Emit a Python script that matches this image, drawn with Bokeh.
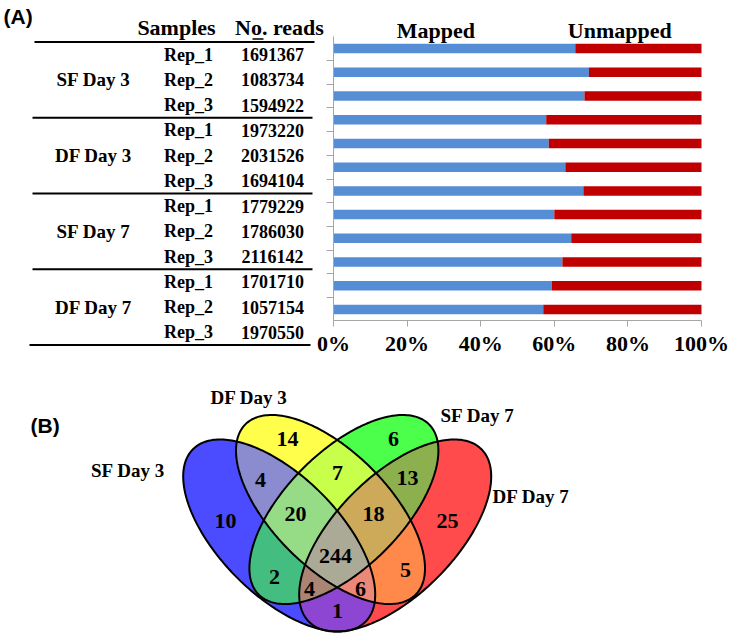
import numpy as np
from bokeh.plotting import figure
from bokeh.layouts import column
from bokeh.models import Range1d, FixedTicker, ColumnDataSource, LinearAxis
from bokeh.core.properties import value
from bokeh.embed import file_html
from bokeh.resources import INLINE

# ---------------- data: panel (A) ----------------
groups = ["SF Day 3", "DF Day 3", "SF Day 7", "DF Day 7"]
reps = ["Rep_1", "Rep_2", "Rep_3"]
reads = [1691367, 1083734, 1594922, 1973220, 2031526, 1694104,
         1779229, 1786030, 2116142, 1701710, 1057154, 1970550]
mapped = [65.7, 69.4, 68.2, 57.8, 58.5, 63.0, 67.9, 60.0, 64.6, 62.2, 59.3, 57.0]
unmapped = [34.3, 30.6, 31.8, 42.2, 41.5, 37.0, 32.1, 40.0, 35.4, 37.8, 40.7, 43.0]
bar_headers = ["Mapped", "Unmapped"]
pct_ticks = [0, 20, 40, 60, 80, 100]
pct_labels = ["0%", "20%", "40%", "60%", "80%", "100%"]

# ---------------- data: panel (B) ----------------
venn_sets = ["SF Day 3", "DF Day 3", "SF Day 7", "DF Day 7"]
venn_regions = ["A", "B", "C", "D", "AB", "AC", "AD", "BC", "BD", "CD",
                "ABC", "ABD", "ACD", "BCD", "ABCD"]
venn_counts = [10, 14, 6, 25, 4, 2, 1, 7, 5, 13, 20, 6, 4, 18, 244]

SERIF = value("Liberation Serif")
SANS = value("Liberation Sans")

W = 736
TOP_H = 362
VH = 276

# ---------------- top figure: table + bar chart ----------------
n = len(reads)
top = figure(width=W, height=TOP_H, x_range=Range1d(0, W), y_range=Range1d(TOP_H, 0),
             output_backend="svg", toolbar_location=None, x_axis_type=None, y_axis_type=None,
             min_border=0, outline_line_color=None, frame_align=False)
top.xgrid.visible = False
top.ygrid.visible = False

# bar chart scales (percent on x, bar index on y)
BAR_X0, BAR_X1 = 333.0, 701.0        # pixel positions of 0% and 100%
BAR_Y0, BAR_DY = 48.0, 23.73         # pixel centre of first bar, bar pitch
AXIS_Y = 320.0                       # pixel row of the percent axis
ppu = (BAR_X1 - BAR_X0) / 100.0
top.extra_x_ranges = {"pct": Range1d(-BAR_X0 / ppu, (W - BAR_X0) / ppu)}
top.extra_y_ranges = {"bars": Range1d((TOP_H - BAR_Y0) / BAR_DY, -BAR_Y0 / BAR_DY)}

src = ColumnDataSource(dict(idx=list(range(n)), mapped=mapped, unmapped=unmapped))
top.hbar_stack(["mapped", "unmapped"], y="idx", height=0.4, color=["#558ED5", "#C00000"],
               line_color=None, source=src, x_range_name="pct", y_range_name="bars")
top.text(x=[27.8, 77.8], y=[-0.76, -0.76], text=bar_headers, text_font=SERIF,
         text_font_style="bold", text_font_size="22px", text_align="center",
         text_baseline="middle", text_color="black", x_range_name="pct", y_range_name="bars")

xa = LinearAxis(x_range_name="pct", fixed_location=AXIS_Y)
xa.ticker = FixedTicker(ticks=pct_ticks)
xa.major_label_overrides = {t: l for t, l in zip(pct_ticks, pct_labels)}
xa.bounds = (0, 100)
xa.axis_line_color = "#A6A6A6"
xa.major_tick_line_color = "#A6A6A6"
xa.major_tick_out = 6
xa.major_tick_in = 0
xa.minor_tick_line_color = None
xa.major_label_standoff = 4
xa.major_label_text_font = "Liberation Serif"
xa.major_label_text_font_style = "bold"
xa.major_label_text_font_size = "22px"
xa.major_label_text_color = "black"
top.add_layout(xa, "below")

yt = [i + 0.5 for i in range(n - 1)]
ya = LinearAxis(y_range_name="bars", x_range_name="pct", fixed_location=0)
ya.ticker = FixedTicker(ticks=yt)
ya.major_label_overrides = {t: "" for t in yt}
ya.major_label_text_font_size = "0px"
ya.major_label_standoff = 0
ya.bounds = (-0.5, (AXIS_Y - BAR_Y0) / BAR_DY)
ya.axis_line_color = "#A6A6A6"
ya.major_tick_line_color = "#A6A6A6"
ya.major_tick_out = 7
ya.major_tick_in = 0
ya.minor_tick_line_color = None
top.add_layout(ya, "left")

# table (screen coordinates)
row_y0, row_dy = 54.0, 25.25
ry = row_y0 + row_dy * np.arange(n)
rep_txt = [reps[i % 3] for i in range(n)]
top.text(x=[188] * n, y=ry, text=rep_txt, text_font=SERIF, text_font_style="bold",
         text_font_size="18px", text_align="center", text_baseline="middle", text_color="black")
top.text(x=[272] * n, y=ry, text=[str(r) for r in reads], text_font=SERIF, text_font_style="bold",
         text_font_size="18px", text_align="center", text_baseline="middle", text_color="black")
gy = [row_y0 + row_dy * (3 * g + 1) for g in range(len(groups))]
top.text(x=[93] * len(groups), y=gy, text=groups, text_font=SERIF, text_font_style="bold",
         text_font_size="19px", text_align="center", text_baseline="middle", text_color="black")
top.text(x=[176, 279], y=[27, 27], text=["Samples", "No. reads"], text_font=SERIF,
         text_font_style="bold", text_font_size="22px", text_align="center",
         text_baseline="middle", text_color="black")
top.segment(x0=[252], y0=[38.5], x1=[263], y1=[38.5], line_color="black", line_width=1.5)
by = [row_y0 + row_dy * b for b in (-0.5, 2.5, 5.5, 8.5, 11.5)]
top.segment(x0=[34, 32, 32, 32, 29], y0=by, x1=[314, 312, 312, 312, 310], y1=by,
            line_color="black", line_width=2)
top.text(x=[3], y=[16], text=["(A)"], text_font=SANS, text_font_style="bold",
         text_font_size="21px", text_align="left", text_baseline="middle", text_color="black")

# ---------------- venn figure (screen coordinates) ----------------
venn = figure(width=W, height=VH, x_range=Range1d(0, W), y_range=Range1d(TOP_H + VH, TOP_H),
              output_backend="svg", toolbar_location=None, x_axis_type=None, y_axis_type=None,
              min_border=0, outline_line_color=None, frame_align=False)
venn.xgrid.visible = False
venn.ygrid.visible = False

# ellipse geometry: centre x, centre y, semi-major, semi-minor, angle (deg, screen coords)
geom = {
    "A": (278.7, 535.0, 122.0, 59.6, 45.0),
    "B": (330.0, 509.0, 120.4, 58.0, 45.0),
    "C": (343.4, 509.0, 120.4, 58.0, -45.0),
    "D": (394.7, 535.0, 122.0, 59.6, -45.0),
}


def ellipse_poly(cx, cy, a, b, ang, m=240):
    t = np.linspace(0, 2 * np.pi, m, endpoint=False)
    ph = np.radians(ang)
    x = cx + a * np.cos(t) * np.cos(ph) - b * np.sin(t) * np.sin(ph)
    y = cy + a * np.cos(t) * np.sin(ph) + b * np.sin(t) * np.cos(ph)
    return np.column_stack([x, y])


def clip(subject, clipper):
    cx, cy = clipper[:, 0], clipper[:, 1]
    area = 0.5 * np.sum(cx * np.roll(cy, -1) - np.roll(cx, -1) * cy)
    sgn = 1.0 if area > 0 else -1.0
    out = [tuple(p) for p in subject]
    m = len(clipper)
    for i in range(m):
        if not out:
            break
        p1 = clipper[i]
        p2 = clipper[(i + 1) % m]
        ex, ey = p2[0] - p1[0], p2[1] - p1[1]

        def side(q):
            return sgn * (ex * (q[1] - p1[1]) - ey * (q[0] - p1[0]))

        inp = out
        out = []
        s = inp[-1]
        ss = side(s)
        for e in inp:
            se = side(e)
            if se >= 0:
                if ss < 0:
                    tt = ss / (ss - se)
                    out.append((s[0] + tt * (e[0] - s[0]), s[1] + tt * (e[1] - s[1])))
                out.append(e)
            elif ss >= 0:
                tt = ss / (ss - se)
                out.append((s[0] + tt * (e[0] - s[0]), s[1] + tt * (e[1] - s[1])))
            s, ss = e, se
    return np.array(out)


polys = {k: ellipse_poly(*v) for k, v in geom.items()}

region_colors = {
    "A": "#4B4BFF", "B": "#FFFF4B", "C": "#4BFF4B", "D": "#FF4B4B",
    "AB": "#8B8BCF", "AC": "#43BE80", "AD": "#8C46D2", "BC": "#C8FF4B",
    "BD": "#FF884B", "CD": "#8DB04F", "ABC": "#96DC87", "ABD": "#EB8878",
    "ACD": "#AA8573", "BCD": "#CDAA5A", "ABCD": "#AAAA96",
}

order = sorted(venn_regions, key=len)
xs, ys, cols = [], [], []
for r in order:
    poly = polys[r[0]]
    for k in r[1:]:
        poly = clip(poly, polys[k])
    if len(poly) < 3:
        continue
    xs.append(list(poly[:, 0]))
    ys.append(list(poly[:, 1]))
    cols.append(region_colors[r])
venn.patches(xs=xs, ys=ys, fill_color=cols, line_color=None)

venn.patches(xs=[list(polys[k][:, 0]) for k in "ABCD"], ys=[list(polys[k][:, 1]) for k in "ABCD"],
             fill_alpha=0, line_color="black", line_width=2)

label_pos = {
    "A": (225, 520), "B": (287, 438), "C": (393, 438), "D": (447, 520),
    "AB": (260, 479), "BC": (337, 472), "CD": (407, 477),
    "ABC": (295, 513), "BCD": (373, 513), "ABCD": (335, 555),
    "AC": (274, 576), "BD": (405, 569), "ACD": (309, 588), "ABD": (360, 588),
    "AD": (337, 610),
}
venn.text(x=[label_pos[r][0] for r in venn_regions], y=[label_pos[r][1] for r in venn_regions],
          text=[str(c) for c in venn_counts], text_font=SERIF, text_font_style="bold",
          text_font_size="22px", text_align="center", text_baseline="middle", text_color="black")

set_pos = [(127.5, 470), (248.5, 397), (477, 415), (530.5, 496)]
venn.text(x=[p[0] for p in set_pos], y=[p[1] for p in set_pos], text=venn_sets, text_font=SERIF,
          text_font_style="bold", text_font_size="19px", text_align="center",
          text_baseline="middle", text_color="black")
venn.text(x=[30], y=[425], text=["(B)"], text_font=SANS, text_font_style="bold",
          text_font_size="21px", text_align="left", text_baseline="middle", text_color="black")

layout = column(top, venn, spacing=0)
open("out.html", "w").write(file_html(layout, INLINE))
